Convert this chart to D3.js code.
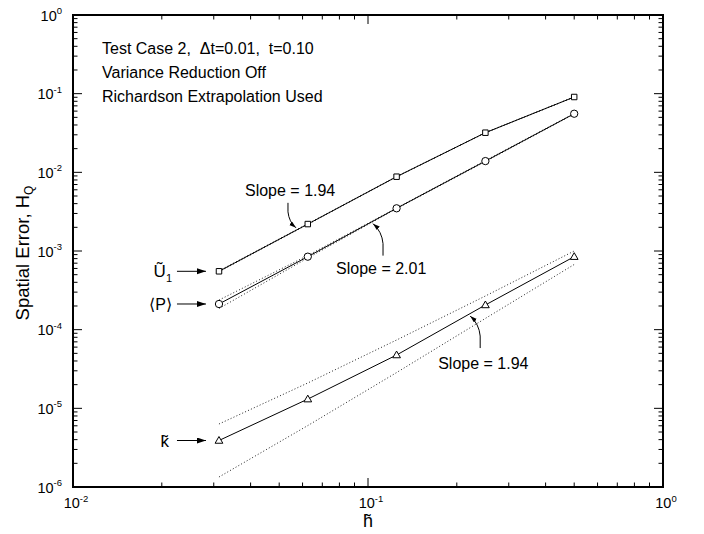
<!DOCTYPE html>
<html>
<head>
<meta charset="utf-8">
<script src="https://cdn.jsdelivr.net/npm/d3@7"></script>
<style>
  html, body { margin: 0; padding: 0; background: #fff; }
  svg text { font-family: "Liberation Sans", Arial, Helvetica, sans-serif; fill: #000; white-space: pre; }
</style>
</head>
<body>
<svg id="chart" width="704" height="534"></svg>
<script>
// Grid spacing h and spatial error H_Q for each quantity
const hValues = [1/32, 1/16, 1/8, 1/4, 1/2];
const u1Error = [5.52e-4, 2.20e-3, 8.80e-3, 3.19e-2, 9.07e-2];
const pError  = [2.12e-4, 8.47e-4, 3.49e-3, 1.39e-2, 5.56e-2];
const kError  = [3.90e-6, 1.31e-5, 4.76e-5, 2.06e-4, 8.47e-4];

// Upper / lower statistical bounds (dotted)
const u1Upper = [5.60e-4, 2.22e-3, 8.85e-3, 3.20e-2, 9.10e-2];
const u1Lower = [5.45e-4, 2.18e-3, 8.75e-3, 3.18e-2, 9.05e-2];
const pUpper  = [2.38e-4, 8.77e-4, 3.52e-3, 1.41e-2, 5.60e-2];
const pLower  = [1.86e-4, 8.15e-4, 3.46e-3, 1.37e-2, 5.52e-2];
const kUpper  = [6.32e-6, 2.10e-5, 7.39e-5, 2.68e-4, 1.00e-3];
const kLower  = [1.34e-6, 6.04e-6, 2.85e-5, 1.39e-4, 6.74e-4];

// Axis decades
const xDecades = [-2, -1, 0];
const yDecades = [-6, -5, -4, -3, -2, -1, 0];

// Slope annotations: label, series, h where arrow touches the curve
const slopeNotes = [
  { text: "Slope = 1.94", series: "u1", h: 0.0570, side: "above" },
  { text: "Slope = 2.01", series: "p",  h: 0.104,  side: "below" },
  { text: "Slope = 1.94", series: "k",  h: 0.222,  side: "below" }
];

const svg = d3.select("#chart");
const margin = { left: 73, right: 663, top: 15, bottom: 487 };

const x = d3.scaleLog().domain([1e-2, 1]).range([margin.left, margin.right]);
const y = d3.scaleLog().domain([1e-6, 1]).range([margin.bottom, margin.top]);

svg.append("rect").attr("width", 704).attr("height", 534).attr("fill", "#fff");

const defs = svg.append("defs");
defs.append("marker")
  .attr("id", "arrowBig").attr("markerUnits", "userSpaceOnUse")
  .attr("markerWidth", 10).attr("markerHeight", 8)
  .attr("refX", 9).attr("refY", 3).attr("orient", "auto")
  .append("path").attr("d", "M0,0 L9,3 L0,6 Z").attr("fill", "#000");
defs.append("marker")
  .attr("id", "arrowSmall").attr("markerUnits", "userSpaceOnUse")
  .attr("markerWidth", 8).attr("markerHeight", 6)
  .attr("refX", 7).attr("refY", 2.25).attr("orient", "auto")
  .append("path").attr("d", "M0,0 L7,2.25 L0,4.5 Z").attr("fill", "#000");

// ---- ticks (inward on all four sides) ----
const ticks = svg.append("g").attr("stroke", "#000").attr("stroke-width", 1);
const majorLen = 9, minorLen = 4.5;
xDecades.forEach(d => {
  const v = Math.pow(10, d);
  [[margin.bottom, -1], [margin.top, 1]].forEach(([yy, dir]) => {
    ticks.append("line").attr("x1", x(v)).attr("x2", x(v))
      .attr("y1", yy).attr("y2", yy + dir * majorLen);
    if (d < 0) {
      for (let m = 2; m <= 9; m++) {
        const xv = x(m * v);
        ticks.append("line").attr("x1", xv).attr("x2", xv)
          .attr("y1", yy).attr("y2", yy + dir * minorLen);
      }
    }
  });
});
yDecades.forEach(d => {
  const v = Math.pow(10, d);
  [[margin.left, 1], [margin.right, -1]].forEach(([xx, dir]) => {
    ticks.append("line").attr("y1", y(v)).attr("y2", y(v))
      .attr("x1", xx).attr("x2", xx + dir * majorLen);
    if (d < 0) {
      for (let m = 2; m <= 9; m++) {
        const yv = y(m * v);
        ticks.append("line").attr("y1", yv).attr("y2", yv)
          .attr("x1", xx).attr("x2", xx + dir * minorLen);
      }
    }
  });
});

// ---- frame ----
svg.append("rect")
  .attr("x", margin.left).attr("y", margin.top)
  .attr("width", margin.right - margin.left).attr("height", margin.bottom - margin.top)
  .attr("fill", "none").attr("stroke", "#000").attr("stroke-width", 2);

// ---- tick labels ----
function powerLabel(g, xx, yy, exp, anchor) {
  const t = g.append("text").attr("x", xx).attr("y", yy)
    .attr("font-size", 14.5).attr("text-anchor", anchor);
  t.append("tspan").text("10");
  t.append("tspan").attr("font-size", 9.5).attr("dy", -6.5).text(exp === 0 ? "0" : String(exp));
  return t;
}
const labels = svg.append("g");
yDecades.forEach(d => powerLabel(labels, 62, y(Math.pow(10, d)) + 5.5, d, "end"));
xDecades.forEach(d => powerLabel(labels, x(Math.pow(10, d)) + 3, 508, d, "middle"));

// ---- axis titles ----
svg.append("text").attr("x", x(0.1)).attr("y", 527)
  .attr("text-anchor", "middle").attr("font-size", 18).text("h\u0303");

const yTitle = svg.append("text")
  .attr("transform", "translate(29,253) rotate(-90)")
  .attr("text-anchor", "middle").attr("font-size", 18.5);
yTitle.append("tspan").text("Spatial Error, H");
yTitle.append("tspan").attr("font-size", 12).attr("dy", 4).text("Q");

// ---- case description ----
const info = ["Test Case 2,  \u0394t=0.01,  t=0.10", "Variance Reduction Off", "Richardson Extrapolation Used"];
info.forEach((s, i) => {
  svg.append("text").attr("x", 102).attr("y", 53.5 + i * 24.3)
    .attr("font-size", 16).text(s);
});

// ---- series ----
const series = {
  u1: { values: u1Error, upper: u1Upper, lower: u1Lower, marker: "square" },
  p:  { values: pError,  upper: pUpper,  lower: pLower,  marker: "circle" },
  k:  { values: kError,  upper: kUpper,  lower: kLower,  marker: "triangle" }
};

const line = d3.line().x(d => x(d[0])).y(d => y(d[1]));
const plot = svg.append("g");

Object.values(series).forEach(s => {
  [s.upper, s.lower].forEach(b => {
    plot.append("path").datum(hValues.map((h, i) => [h, b[i]]))
      .attr("d", line).attr("fill", "none")
      .attr("stroke", "#222").attr("stroke-width", 1)
      .attr("stroke-dasharray", "1,2.2");
  });
});

Object.values(series).forEach(s => {
  const pts = hValues.map((h, i) => [h, s.values[i]]);
  plot.append("path").datum(pts).attr("d", line)
    .attr("fill", "none").attr("stroke", "#000").attr("stroke-width", 1);
  const sym = s.marker === "square" ? d3.symbolSquare
            : s.marker === "circle" ? d3.symbolCircle : d3.symbolTriangle;
  const size = s.marker === "square" ? 30 : s.marker === "circle" ? 42 : 26;
  plot.selectAll(null).data(pts).enter().append("path")
    .attr("d", d3.symbol().type(sym).size(size))
    .attr("transform", d => `translate(${x(d[0])},${y(d[1]) + (s.marker === "triangle" ? 0.5 : 0)})`)
    .attr("fill", "#fff").attr("stroke", "#000").attr("stroke-width", 1);
});

// ---- series labels with arrows at the first grid point ----
const seriesLabels = [
  { key: "u1", parts: [["\u0168", 17, 0], ["1", 11, 5]], endX: 172 },
  { key: "p",  parts: [["\u27E8P\u27E9", 16, 0]], endX: 172 },
  { key: "k",  parts: [["k\u0303", 17, 0]], endX: 169 }
];
seriesLabels.forEach(l => {
  const yy = y(series[l.key].values[0]);
  const x0 = x(hValues[0]);
  svg.append("line").attr("x1", x0 - 42).attr("x2", x0 - 13)
    .attr("y1", yy).attr("y2", yy)
    .attr("stroke", "#000").attr("stroke-width", 1)
    .attr("marker-end", "url(#arrowBig)");
  const t = svg.append("text").attr("x", l.endX).attr("y", yy + 6)
    .attr("text-anchor", "end");
  l.parts.forEach(([s, fs, dy], i) => {
    t.append("tspan").attr("font-size", fs).attr("dy", i === 0 ? 0 : dy).text(s);
  });
});

// ---- slope annotations ----
function curveY(values, h) {
  // position on the polyline in screen space
  const px = x(h);
  for (let i = 0; i < hValues.length - 1; i++) {
    const a = x(hValues[i]), b = x(hValues[i + 1]);
    if (px >= a && px <= b) {
      const t = (px - a) / (b - a);
      return y(values[i]) + t * (y(values[i + 1]) - y(values[i]));
    }
  }
  return y(values[0]);
}
slopeNotes.forEach(n => {
  const tx = x(n.h);
  const ty = curveY(series[n.series].values, n.h);
  let d, textX, textY;
  if (n.side === "above") {
    const tipY = ty - 2.5;
    d = `M${tx - 8},${tipY - 25} L${tx - 8},${tipY - 16} Q${tx - 7},${tipY - 6} ${tx},${tipY}`;
    textX = tx - 51; textY = tipY - 32;
  } else {
    const tipY = ty + 2.5;
    d = `M${tx + 10},${tipY + 32} L${tx + 10},${tipY + 20} Q${tx + 9},${tipY + 8} ${tx},${tipY}`;
    textX = tx - 37; textY = tipY + 50;
    if (n.series === "k") { textX = tx - 32; textY = tipY + 53; }
  }
  svg.append("path").attr("d", d).attr("fill", "none")
    .attr("stroke", "#000").attr("stroke-width", 1)
    .attr("marker-end", "url(#arrowSmall)");
  svg.append("text").attr("x", textX).attr("y", textY)
    .attr("font-size", 16).text(n.text);
});
</script>
</body>
</html>
